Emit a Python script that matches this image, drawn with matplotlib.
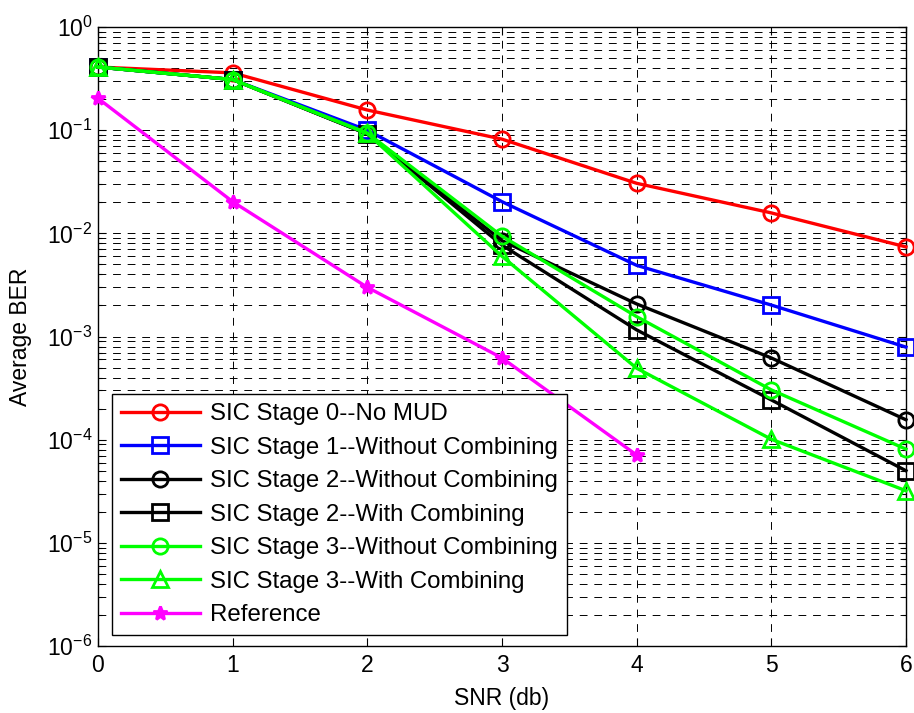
import matplotlib
matplotlib.use("Agg")
import matplotlib.pyplot as plt
import numpy as np
from matplotlib.ticker import LogLocator, NullFormatter

plt.rcParams['font.family'] = ['Liberation Sans', 'DejaVu Sans']
plt.rcParams['mathtext.fontset'] = 'custom'
plt.rcParams['mathtext.rm'] = 'Liberation Sans'

# data
snr = [0, 1, 2, 3, 4, 5, 6]
snr_ref = [0, 1, 2, 3, 4]

ber_stage0 = [0.41, 0.36, 0.157, 0.082, 0.0306, 0.0158, 0.0074]
ber_stage1 = [0.41, 0.31, 0.100, 0.0203, 0.0049, 0.00202, 0.00079]
ber_stage2_wo = [0.41, 0.31, 0.092, 0.0085, 0.00207, 0.00062, 0.000156]
ber_stage2_w = [0.41, 0.31, 0.092, 0.0077, 0.00116, 0.000243, 0.000050]
ber_stage3_wo = [0.41, 0.31, 0.094, 0.0094, 0.00156, 0.000304, 0.000081]
ber_stage3_w = [0.41, 0.31, 0.093, 0.0060, 0.000493, 0.000101, 0.000032]
ber_reference = [0.204, 0.0203, 0.0030, 0.00062, 0.000071]

labels = [
    'SIC Stage 0--No MUD',
    'SIC Stage 1--Without Combining',
    'SIC Stage 2--Without Combining',
    'SIC Stage 2--With Combining',
    'SIC Stage 3--Without Combining',
    'SIC Stage 3--With Combining',
    'Reference',
]

FS = 16.5
LEG_FS = 17.3
LW = 2.4

fig = plt.figure(figsize=(9.14, 7.13), dpi=100)
ax = fig.add_axes([0.1072, 0.094, 0.8840, 0.868])

series = [
    (snr, ber_stage0, '#FF0000', 'o'),
    (snr, ber_stage1, '#0000FF', 's'),
    (snr, ber_stage2_wo, '#000000', 'o'),
    (snr, ber_stage2_w, '#000000', 's'),
    (snr, ber_stage3_wo, '#00FF00', 'o'),
    (snr, ber_stage3_w, '#00FF00', '^'),
]
for (x, y, c, m), lab in zip(series, labels[:6]):
    ax.semilogy(x, y, color=c, marker=m, markersize=11, markerfacecolor='none',
                markeredgewidth=2.0, linewidth=LW, label=lab, clip_on=False, zorder=3)

ax.semilogy(snr_ref, ber_reference, color='#FF00FF', marker='*', markersize=10,
            markeredgewidth=2.0, linewidth=LW, label=labels[6], clip_on=False, zorder=3)

ax.set_xlim(0, 6)
ax.set_ylim(1e-6, 1)
ax.set_xticks(snr)
ax.yaxis.set_major_locator(LogLocator(base=10, numticks=10))
ax.yaxis.set_minor_locator(LogLocator(base=10, subs=np.arange(2, 10), numticks=100))
ax.yaxis.set_minor_formatter(NullFormatter())

# MATLAB-style dashed grid
grid_style = dict(color='black', linewidth=0.7, linestyle=(0, (8, 7)))
ax.grid(True, which='major', axis='both', **grid_style)
ax.grid(True, which='minor', axis='y', **grid_style)
ax.set_axisbelow(True)

ax.tick_params(which='both', direction='in', top=True, right=True, labelsize=FS)
ax.tick_params(which='major', length=6, width=0.8)
ax.tick_params(which='minor', length=3, width=0.8)
ax.tick_params(axis='x', pad=6)
ax.tick_params(axis='y', pad=4)
for sp in ax.spines.values():
    sp.set_linewidth(1.0)

ax.set_xlabel('SNR (db)', fontsize=FS)
ax.set_ylabel('Average BER', fontsize=FS)
ax.xaxis.set_label_coords(0.5, -0.066)
ax.yaxis.set_label_coords(-0.082, 0.5)

leg = ax.legend(loc='lower left', bbox_to_anchor=(0.017, 0.017), borderaxespad=0,
                fontsize=LEG_FS, fancybox=False, framealpha=1, edgecolor='black',
                handlelength=3.3, handletextpad=0.4, labelspacing=0.48,
                borderpad=0.38)
leg.get_frame().set_linewidth(1.0)
leg.set_zorder(5)

fig.savefig('out.png', dpi=100)
